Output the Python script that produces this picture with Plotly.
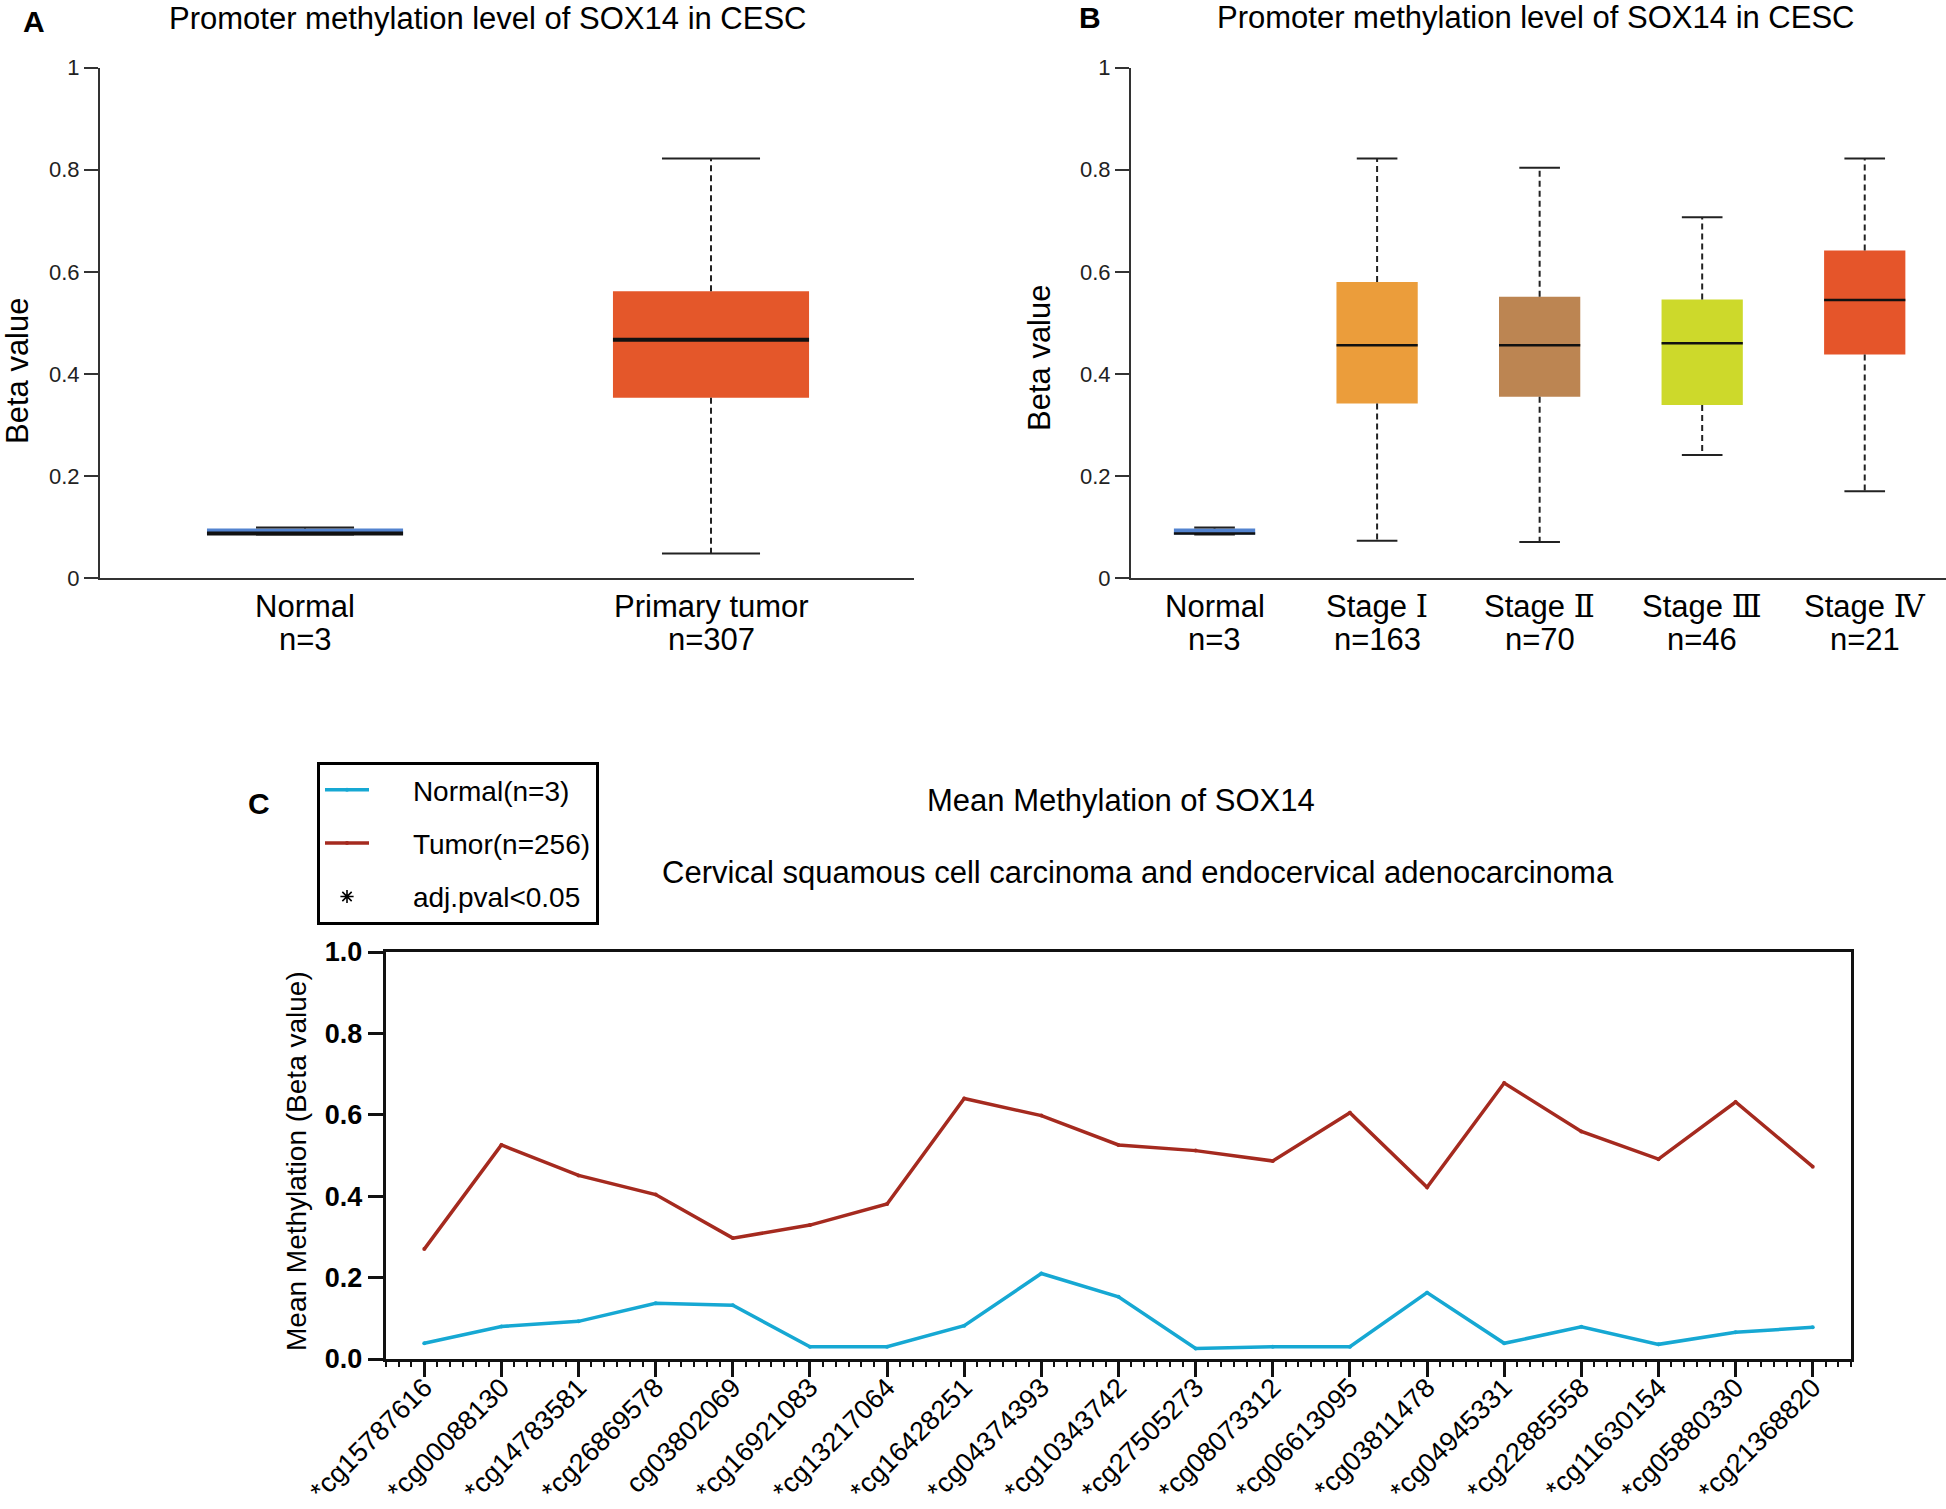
import plotly.graph_objects as go

# ---- panel A: normal vs primary tumor (box stats)
a_groups = ["Normal", "Primary tumor"]
a_n = [3, 307]
a_min = [0.085, 0.048]
a_q1 = [0.085, 0.353]
a_med = [0.087, 0.467]
a_q3 = [0.097, 0.562]
a_max = [0.099, 0.822]
a_colors = ["#5383CF", "#E4572A"]

# ---- panel B: by stage
b_groups = ["Normal", "Stage Ⅰ", "Stage Ⅱ", "Stage Ⅲ", "Stage Ⅳ"]
b_n = [3, 163, 70, 46, 21]
b_min = [0.085, 0.073, 0.0705, 0.241, 0.170]
b_q1 = [0.085, 0.342, 0.355, 0.339, 0.438]
b_med = [0.087, 0.456, 0.456, 0.460, 0.545]
b_q3 = [0.097, 0.580, 0.551, 0.546, 0.642]
b_max = [0.099, 0.822, 0.804, 0.707, 0.822]
b_colors = ["#5383CF", "#EB9D3B", "#BC8552", "#CDD92B", "#E5552A"]

# ---- panel C: mean methylation per probe
probes = ["*cg15787616", "*cg00088130", "*cg14783581", "*cg26869578", "cg03802069",
          "*cg16921083", "*cg13217064", "*cg16428251", "*cg04374393", "*cg10343742",
          "*cg27505273", "*cg08073312", "*cg06613095", "*cg03811478", "*cg04945331",
          "*cg22885558", "*cg11630154", "*cg05880330", "*cg21368820"]
normal_mean = [0.0385, 0.080, 0.0925, 0.137, 0.132, 0.030, 0.030, 0.082, 0.210, 0.153,
               0.026, 0.030, 0.030, 0.163, 0.0385, 0.079, 0.036, 0.0655, 0.078]
tumor_mean = [0.270, 0.526, 0.451, 0.404, 0.297, 0.329, 0.381, 0.640, 0.598, 0.526,
              0.512, 0.4865, 0.605, 0.422, 0.678, 0.559, 0.491, 0.6315, 0.4725]

FONT = "Arial, Liberation Sans, sans-serif"
W, H = 1946, 1509
PAD = "\u00a0" * 5  # gap between legend symbol and text

fig = go.Figure()


def add_boxes(groups, lo, q1, med, q3, hi, colors, bw, xa, ya, medw):
    pos = list(range(len(groups)))
    fig.add_trace(go.Bar(x=pos, y=[b - a for a, b in zip(q1, q3)], base=q1, width=bw,
                         marker=dict(color=colors, line_width=0), xaxis=xa, yaxis=ya,
                         showlegend=False, hoverinfo="skip"))
    wx, wy, cx, cy, mx, my = [], [], [], [], [], []
    cw = bw / 4
    for p, l, a, m, b, h in zip(pos, lo, q1, med, q3, hi):
        wx += [p, p, None, p, p, None]
        wy += [b, h, None, a, l, None]
        cx += [p - cw, p + cw, None, p - cw, p + cw, None]
        cy += [h, h, None, l, l, None]
        mx += [p - bw / 2, p + bw / 2, None]
        my += [m, m, None]
    fig.add_trace(go.Scatter(x=wx, y=wy, mode="lines", xaxis=xa, yaxis=ya, showlegend=False,
                             line=dict(color="#222", width=2, dash="6px,4px"), hoverinfo="skip"))
    fig.add_trace(go.Scatter(x=cx, y=cy, mode="lines", xaxis=xa, yaxis=ya, showlegend=False,
                             line=dict(color="#222", width=2), hoverinfo="skip"))
    fig.add_trace(go.Scatter(x=mx, y=my, mode="lines", xaxis=xa, yaxis=ya, showlegend=False,
                             line=dict(color="#111", width=medw), hoverinfo="skip"))


add_boxes(a_groups, a_min, a_q1, a_med, a_q3, a_max, a_colors, 0.483, "x", "y", 4)
add_boxes(b_groups, b_min, b_q1, b_med, b_q3, b_max, b_colors, 0.5, "x2", "y2", 2.5)

# panel C lines
fig.add_trace(go.Scatter(x=list(range(len(probes))), y=normal_mean, mode="lines+markers",
                         name=PAD + "Normal(n=3)", legendgroup="n", xaxis="x3", yaxis="y3",
                         line=dict(color="#16A8D3", width=3.5), marker=dict(size=4)))
fig.add_trace(go.Scatter(x=list(range(len(probes))), y=tumor_mean, mode="lines+markers",
                         name=PAD + "Tumor(n=256)", legendgroup="t", xaxis="x3", yaxis="y3",
                         line=dict(color="#A52A1F", width=3.5), marker=dict(size=4)))
fig.add_trace(go.Scatter(x=[None], y=[None], mode="markers", name=PAD + "adj.pval<0.05",
                         legendgroup="p", xaxis="x3", yaxis="y3",
                         marker=dict(symbol="asterisk-open", size=11, color="black",
                                     line=dict(width=1.6, color="black"))))


def px(x):
    return x / W


def py(y):
    return (H - y) / H


ab_y = dict(range=[0, 1], tickvals=[0, 0.2, 0.4, 0.6, 0.8, 1],
            ticktext=["0", "0.2", "0.4", "0.6", "0.8", "1"], ticks="outside", ticklen=14,
            tickwidth=2, tickcolor="#333", showline=True, linecolor="#333", linewidth=2,
            showgrid=False, zeroline=False, tickfont=dict(family=FONT, size=22, color="#222"),
            domain=[py(578), py(67.7)], automargin=False)
ab_x = dict(showline=True, linecolor="#333", linewidth=2, ticks="", showticklabels=False,
            showgrid=False, zeroline=False, automargin=False)

fig.update_layout(
    template="none",
    width=W, height=H, margin=dict(l=0, r=0, t=0, b=0, autoexpand=False),
    paper_bgcolor="white", plot_bgcolor="white",
    font=dict(family=FONT, color="black"),
    xaxis=dict(ab_x, range=[-0.505, 1.5], domain=[px(100), px(914)], anchor="y"),
    yaxis=dict(ab_y, anchor="x"),
    xaxis2=dict(ab_x, range=[-0.514, 4.5], domain=[px(1131), 1.0], anchor="y2"),
    yaxis2=dict(ab_y, anchor="x2"),
    xaxis3=dict(range=[-0.5, 18.5], domain=[px(385.7), px(1851.3)], anchor="y3",
                tickvals=list(range(len(probes))), ticktext=probes, tickangle=-45,
                ticks="outside", ticklen=15, tickwidth=3, tickcolor="#111",
                ticklabelstandoff=-16,
                minor=dict(ticks="outside", dtick=1 / 6, tick0=0, ticklen=5, tickwidth=2,
                           tickcolor="#111"),
                showline=True, linecolor="#111", linewidth=3, mirror=True, automargin=False,
                showgrid=False, zeroline=False, tickfont=dict(family=FONT, size=27, color="black")),
    yaxis3=dict(range=[0, 1], domain=[py(1359), py(952)], anchor="x3",
                tickvals=[0, 0.2, 0.4, 0.6, 0.8, 1.0], tickformat=".1f",
                ticks="outside", ticklen=15, tickwidth=3, tickcolor="#111",
                showline=True, linecolor="#111", linewidth=3, mirror=True, automargin=False,
                showgrid=False, zeroline=False,
                tickfont=dict(family=FONT, size=27, color="black", weight="bold")),
    legend=dict(x=px(317), y=py(762), xanchor="left", yanchor="top",
                bordercolor="black", borderwidth=3, bgcolor="white",
                font=dict(family=FONT, size=28, color="black"),
                tracegroupgap=14, itemwidth=44),
    showlegend=True,
)

ann = []


def text(x, y, s, size, **kw):
    ann.append(dict(x=x, y=y, xref="paper", yref="paper", text=s, showarrow=False,
                    xanchor="center", yanchor="middle",
                    font=dict(family=FONT, size=size, color=kw.pop("color", "black"),
                              weight=kw.pop("weight", "normal")), **kw))


title = "Promoter methylation level of SOX14 in CESC"
text(px(488), py(18), title, 31)
text(px(1536), py(17), title, 31)
text(px(34), py(22), "A", 30, weight="bold")
text(px(1090), py(17), "B", 30, weight="bold")
text(px(17), py(371), "Beta value", 31, textangle=-90)
text(px(1039), py(358), "Beta value", 31, textangle=-90)


def roman(label):
    # the stage numerals are drawn in a serif face in the original
    if label.startswith("Stage "):
        return 'Stage <span style="font-family:DejaVu Serif">' + label[6:] + "</span>"
    return label


for xa, groups, ns in (("x", a_groups, a_n), ("x2", b_groups, b_n)):
    for i, (g, n) in enumerate(zip(groups, ns)):
        ann.append(dict(x=i, y=py(606), xref=xa, yref="paper", text=roman(g), showarrow=False,
                        xanchor="center", yanchor="middle",
                        font=dict(family=FONT, size=31, color="black")))
        ann.append(dict(x=i, y=py(639), xref=xa, yref="paper", text=f"n={n}", showarrow=False,
                        xanchor="center", yanchor="middle",
                        font=dict(family=FONT, size=31, color="black")))

text(px(259), py(804), "C", 30, weight="bold")
text(px(1121), py(800), "Mean Methylation of SOX14", 31)
text(px(1138), py(873), "Cervical squamous cell carcinoma and endocervical adenocarcinoma", 31)
text(px(296), py(1161), "Mean Methylation (Beta value)", 28, textangle=-90)

fig.update_layout(annotations=ann)

fig.write_html("out.html", config={"displayModeBar": False},
               post_script="document.body.style.margin='0px';document.body.style.overflow='hidden';")
